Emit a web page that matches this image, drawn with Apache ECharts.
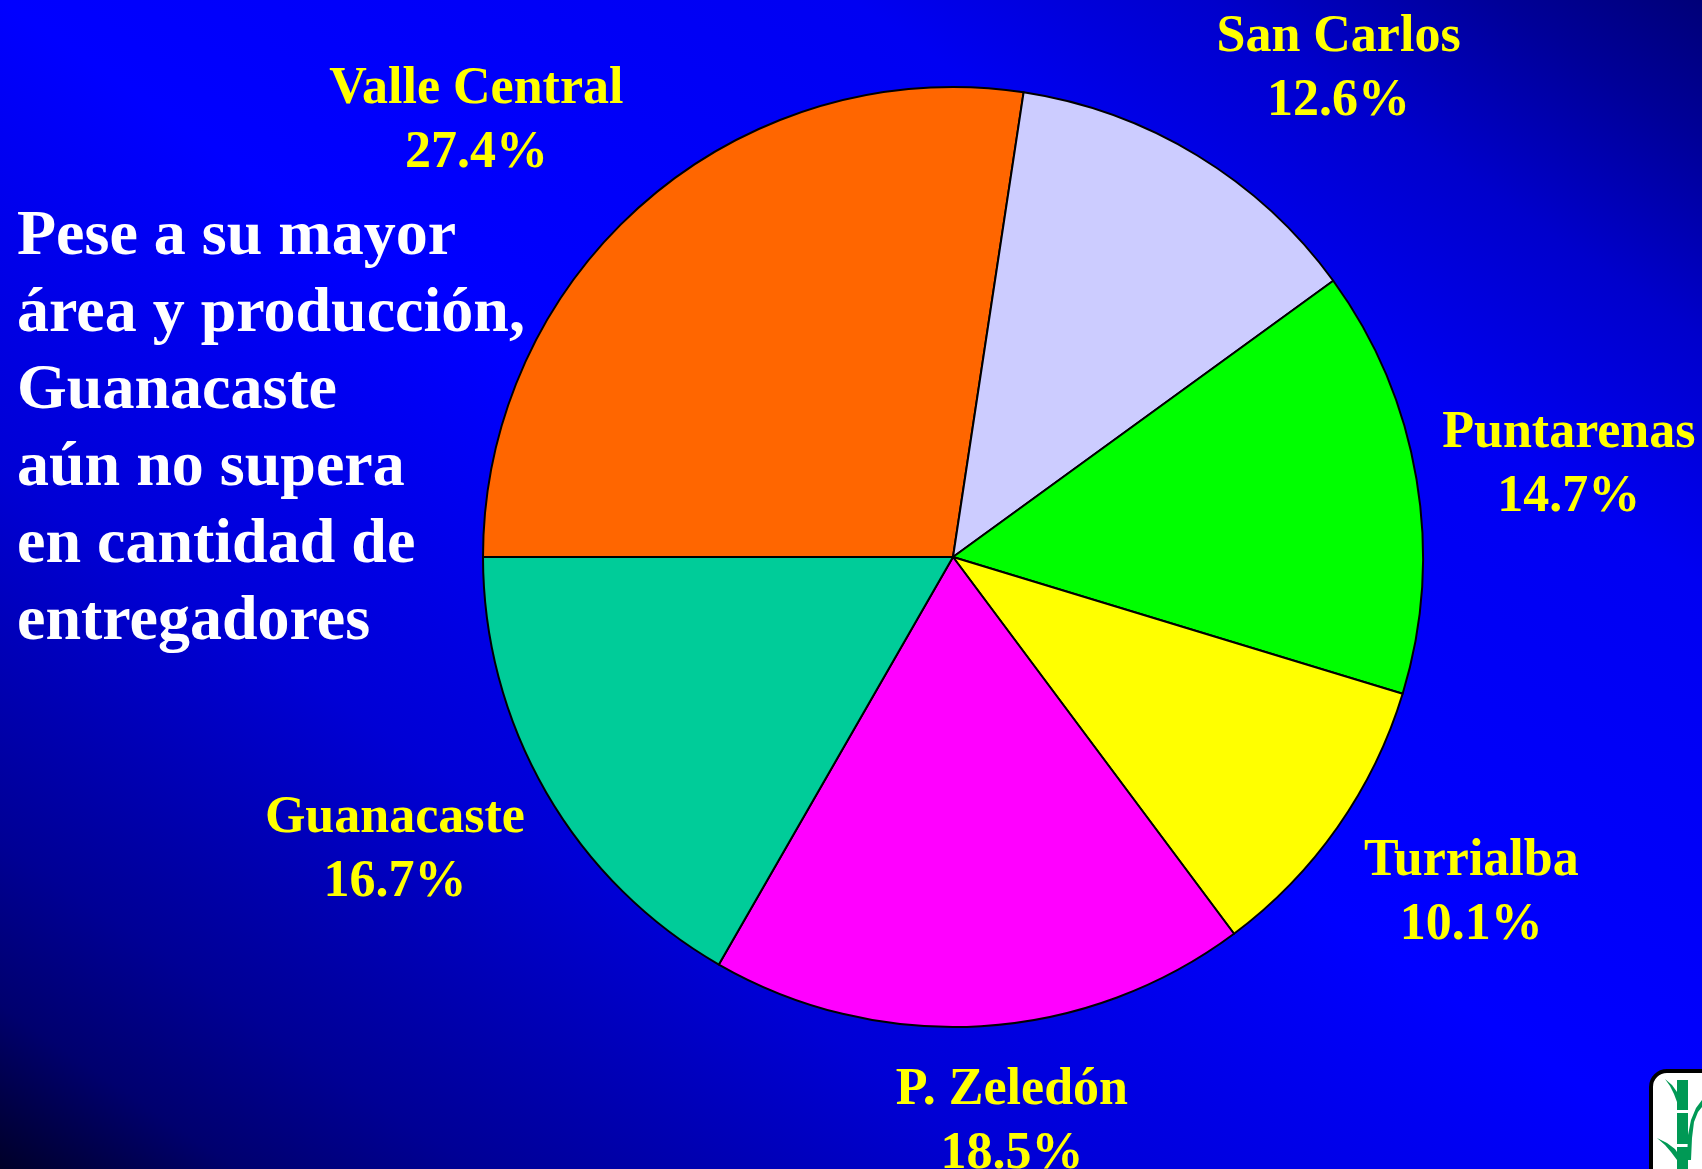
<!DOCTYPE html>
<html><head><meta charset="utf-8">
<script src="https://cdn.jsdelivr.net/npm/echarts@6/dist/echarts.min.js"></script>
<style>html,body{margin:0;padding:0;overflow:hidden;background:#000}#c{width:1702px;height:1169px}</style>
</head><body><div id="c"></div>
<script>
// ---- data ----
const categories = ['Valle Central', 'San Carlos', 'Puntarenas', 'Turrialba', 'P. Zeledón', 'Guanacaste'];
const values = [27.4, 12.6, 14.7, 10.1, 18.5, 16.7];
const noteLines = ['Pese a su mayor', 'área y producción,', 'Guanacaste', 'aún no supera', 'en cantidad de', 'entregadores'];

// ---- styles / layout ----
const sliceColors = ['#FF6600', '#CCCCFF', '#00FF00', '#FFFF00', '#FF00FF', '#00CC99'];
const labelGap = 20, labelK = 1.4;
const labelNudge = [[-23, 0], [42, -4.5], [6, 4.5], [10, 3], [20, 12.5], [-4, 3]];
const SERIF = '"Liberation Serif", "Times New Roman", serif';
const CANE = '#009955';

const chart = echarts.init(document.getElementById('c'), null, {renderer: 'canvas'});

const bg = {
  type: 'linear', x: 0, y: 1, x2: 0.641, y2: -0.359,
  colorStops: [
    {offset: 0, color: '#000028'},
    {offset: 0.07, color: '#00006E'},
    {offset: 0.14, color: '#000095'},
    {offset: 0.3, color: '#0000D5'},
    {offset: 0.5, color: '#0000FF'},
    {offset: 0.75, color: '#0000F2'},
    {offset: 0.855, color: '#0000CC'},
    {offset: 0.94, color: '#000098'},
    {offset: 1, color: '#000078'}
  ]
};

chart.setOption({
  animation: false,
  backgroundColor: bg,
  series: [{
    type: 'pie',
    center: [953, 557],
    radius: 470,
    startAngle: 180,
    clockwise: true,
    avoidLabelOverlap: false,
    emphasis: {disabled: true},
    data: categories.map((n, i) => ({name: n, value: values[i], itemStyle: {color: sliceColors[i]}})),
    itemStyle: {borderColor: '#000', borderWidth: 2},
    label: {
      show: true,
      position: 'outside',
      overflow: 'none',
      color: '#FFFF00',
      fontFamily: SERIF,
      fontWeight: 'bold',
      fontSize: 52,
      lineHeight: 64,
      formatter: p => p.name + '\n' + p.value.toFixed(1) + '%'
    },
    labelLine: {show: true, length: 20, length2: 0, lineStyle: {opacity: 0, width: 0}},
    labelLayout: function (p) {
      const pts = p.labelLinePoints;
      if (!pts) return {};
      const dx0 = pts[1][0] - pts[0][0], dy0 = pts[1][1] - pts[0][1];
      const len = Math.hypot(dx0, dy0) || 1;
      const ux = dx0 / len, uy = dy0 / len;
      const w = p.labelRect.width, h = p.labelRect.height;
      const cl = v => Math.max(-1, Math.min(1, v * labelK));
      const n = labelNudge[p.dataIndex];
      return {
        x: pts[0][0] + ux * labelGap + cl(ux) * w / 2 + n[0],
        y: pts[0][1] + uy * labelGap + cl(uy) * h / 2 + n[1],
        align: 'center', verticalAlign: 'middle'
      };
    }
  }],
  graphic: [
    {
      type: 'text', left: 17, top: 199, z: 10,
      style: {
        text: noteLines.join('\n'), fill: '#FFFFFF',
        fontFamily: SERIF, fontWeight: 'bold', fontSize: 64, lineHeight: 77
      }
    },
    {type: 'rect', z: 10, shape: {x: 1651, y: 1071, width: 90, height: 130, r: 16}, style: {fill: '#FFFFFF', stroke: '#000000', lineWidth: 4}},
    {type: 'rect', z: 11, shape: {x: 1677, y: 1080, width: 11, height: 30}, style: {fill: CANE}},
    {type: 'rect', z: 11, shape: {x: 1677, y: 1113, width: 11, height: 31}, style: {fill: CANE}},
    {type: 'rect', z: 11, shape: {x: 1677, y: 1147, width: 11, height: 30}, style: {fill: CANE}},
    {type: 'polygon', z: 12, shape: {points: [[1665,1079],[1672,1085],[1677,1092],[1681,1101],[1684,1110],[1680,1110],[1677,1102],[1674,1094],[1670,1086]]}, style: {fill: CANE}},
    {type: 'polygon', z: 12, shape: {points: [[1657,1138],[1667,1143],[1675,1149],[1681,1158],[1686,1169],[1681,1169],[1677,1160],[1671,1152],[1665,1145]]}, style: {fill: CANE}},
    {type: 'polygon', z: 12, shape: {points: [[1702,1100],[1696,1108],[1691,1120],[1688,1135],[1687,1160],[1691,1160],[1692,1138],[1694,1122],[1698,1112],[1702,1107]]}, style: {fill: CANE}}
  ]
});
</script>
</body></html>
